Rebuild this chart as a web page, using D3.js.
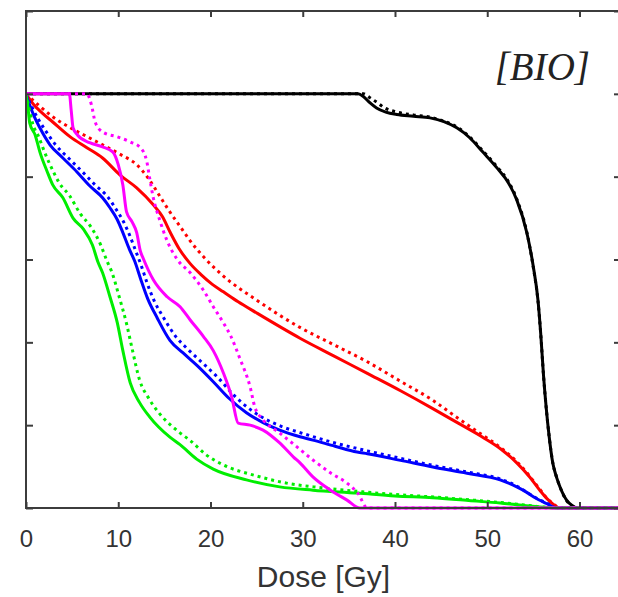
<!DOCTYPE html>
<html>
<head>
<meta charset="utf-8">
<script src="https://cdn.jsdelivr.net/npm/d3@7"></script>
<style>
  html, body { margin: 0; padding: 0; background: #fff; }
  svg { display: block; }
</style>
</head>
<body>
<svg id="chart" width="618" height="597"></svg>
<script>
// Dose-volume histograms: dose [Gy] vs volume [%]; solid = plan, dotted = comparison
const xTicks = [0, 10, 20, 30, 40, 50, 60];
const yTicks = [0, 20, 40, 60, 80, 100, 120];
const xLabel = "Dose [Gy]";
const panelTag = "[BIO]";

const blackSolid = [[0,100],[36.0,100],[36.6,99.3],[37.3,97.8],[38.0,96.6],[39.0,95.6],[40.2,95.0],[42,94.6],[43.8,94.2],[45.3,93.3],[46.7,91.8],[48.1,89.4],[49.5,86],[51.1,82],[52.3,78.5],[53.2,74.4],[54.3,66.4],[55.0,58.2],[55.5,50.2],[55.8,42],[56.1,32],[56.4,24],[56.7,17.5],[57.1,10.9],[57.5,7.5],[57.9,5],[58.6,1.9],[59.2,0.6],[59.8,0],[65,0]];
const blackDotted = [[0,100],[36.6,100],[37.2,99.2],[38.0,98.0],[38.8,96.7],[40.2,95.6],[42,94.9],[43.8,94.4],[45.3,93.4],[46.7,92],[48.1,89.6],[49.5,86.3],[51.1,82.3],[52.3,78.8],[53.2,74.6],[54.3,66.5],[55.0,58],[55.5,50],[55.8,42],[56.1,32],[56.4,24],[56.7,17.5],[57.1,11],[57.5,7.6],[57.9,5],[58.6,1.8],[59.2,0.5],[59.8,0],[65,0]];

const redSolid = [[0,100],[0.8,97.5],[1.8,95.3],[2.9,93.2],[4.8,89.6],[6.6,87],[8.3,84.5],[10.2,80.4],[12.0,77.3],[13.8,73.2],[14.8,70.3],[15.6,66.7],[16.6,62.6],[17.8,59],[19,56.3],[20.2,54],[21.4,52.2],[23,49.8],[25,47.1],[29.7,41],[33.3,36.8],[37,32.5],[40.6,28.3],[44.1,24],[47,20.3],[49.5,17.1],[51.5,14.2],[53.2,10.9],[54.6,7.5],[55.7,4.3],[56.5,2.2],[57.1,1.0],[57.8,0],[65,0]];
const redDotted = [[0,100],[1.5,97],[3,94.3],[4.8,91.8],[6.5,89.8],[8.3,87.7],[10.2,85.4],[12,82.9],[13.3,79.5],[14.5,75.3],[15.5,71.8],[16.7,68],[17.8,64.5],[19.6,59.8],[21.4,56],[25,50.2],[29.7,43.6],[33.3,39.5],[37,35.3],[40.6,30.6],[44.1,26],[47,21.4],[49.5,17.6],[51.5,14.5],[53.2,11.2],[54.6,7.7],[55.7,4.5],[56.5,2.3],[57.1,1.1],[57.9,0],[65,0]];

const blueSolid = [[0,100],[0.4,97.3],[0.9,94.5],[1.5,91.8],[2.6,87.7],[4.0,84.5],[5.5,81.2],[6.9,77.8],[8.3,74.9],[9.1,72.5],[9.9,69.6],[10.5,66.5],[11.2,62.5],[11.8,59.5],[12.4,55.5],[13.2,50.5],[14.2,46],[15.6,40.5],[17,37.5],[18.5,34.5],[20.3,30.5],[22,26.5],[23.9,23],[25.7,20.6],[27.5,18.8],[29.7,17.2],[31.1,16.4],[33.5,14.9],[35.9,13.5],[37,13.1],[40.6,11.5],[44.1,9.9],[47.8,8.4],[51.4,6.8],[53.2,5.1],[54.2,3.9],[55,2.7],[56.5,1],[57.5,0],[65,0]];
const blueDotted = [[0,100],[0.6,97],[1.3,94],[2.0,91.5],[3.2,87.7],[4.6,84.5],[6.1,81.2],[7.5,78],[8.9,75],[9.8,72],[10.6,69],[11.3,65.5],[11.9,62],[12.5,58.5],[13.1,54.5],[13.9,50],[14.9,46],[16.2,41.5],[17.6,38.2],[19,35.3],[20.8,31.5],[22.5,27.3],[24.3,23.8],[26,21.4],[27.8,19.6],[30,18],[33.5,15.7],[37,13.8],[40.6,12],[44.1,10.3],[47.8,8.7],[51.4,7],[53.2,5.3],[55,2.8],[56.5,1.1],[57.6,0],[65,0]];

const greenSolid = [[0,100],[0.2,97],[0.4,93],[1.0,90],[1.5,86],[2.3,81.2],[2.9,78],[4,74.9],[5.1,70],[6.2,67.4],[7.2,63.5],[7.8,59.4],[8.3,56.8],[9.1,51],[9.9,44.7],[10.5,38],[11.3,30.2],[12.3,25.5],[13.4,22],[15.6,17.1],[16.7,15.3],[18.5,11.8],[20.3,9.4],[23.9,6.8],[27.5,5.1],[31.1,4.3],[35.9,3.6],[40,2.9],[44.1,2.5],[48,1.8],[51.4,1.2],[54,0.6],[56.5,0.1],[57.5,0],[65,0]];
const greenDotted = [[0,100],[0.3,97],[0.7,93],[1.4,89.5],[2.0,86],[2.9,81.5],[3.6,78.5],[4.7,75.5],[5.9,71],[7.0,68],[8.1,63.5],[8.8,59.5],[9.3,57],[10.1,51],[10.9,44.5],[11.5,38.5],[12.3,31],[13.3,26.5],[14.4,23],[16.6,18.3],[17.8,16.3],[19.5,12.9],[21.3,10.5],[24.9,7.8],[28.5,5.9],[32,4.9],[36.5,3.9],[40.5,3.2],[44.5,2.6],[48.5,1.9],[52,1.2],[54.5,0.6],[56.7,0.1],[57.7,0],[65,0]];

const magentaSolid = [[0,100],[4.7,100],[4.9,96],[5.1,91.8],[5.6,90],[6.9,88.2],[8.3,87.2],[9.4,86],[10,82.9],[10.5,78],[10.9,71.5],[11.5,69.1],[12,66.5],[12.4,62],[12.7,60.3],[13.8,55.1],[15.3,51],[16.7,48.6],[17.8,45.4],[19.2,41.5],[20.3,38],[21.4,32.6],[22.3,26.8],[23,20.5],[24.3,20],[25.7,18.8],[27.5,15.7],[29,12.3],[29.7,10.9],[31.1,7.5],[33,4.3],[34.8,1.9],[36.2,0],[65,0]];
const magentaDotted = [[0,100],[6.6,100],[7.1,97.3],[7.5,93.2],[8.3,90.8],[9.9,89.6],[11.3,88.4],[12.4,87],[13.1,83.6],[13.4,79.7],[13.8,74.9],[14.5,69.5],[15.3,64.5],[16.4,60],[17.8,56.8],[19.2,52.7],[20.3,48.6],[21.4,44.7],[22.2,41.5],[23.2,36],[24.3,29.2],[24.8,24.4],[25.7,21.3],[27.5,18.1],[29.4,14.7],[31.1,11.6],[33,8.5],[34.8,6],[36,3.5],[37,0],[65,0]];

const series = [
  { data: blackSolid,    color: "#000000", dotted: false },
  { data: blackDotted,   color: "#000000", dotted: true },
  { data: redSolid,      color: "#ff0000", dotted: false },
  { data: redDotted,     color: "#ff0000", dotted: true },
  { data: blueSolid,     color: "#0000ff", dotted: false },
  { data: blueDotted,    color: "#0000ff", dotted: true },
  { data: greenSolid,    color: "#00ee00", dotted: false },
  { data: greenDotted,   color: "#00ee00", dotted: true },
  { data: magentaSolid,  color: "#ff00ff", dotted: false },
  { data: magentaDotted, color: "#ff00ff", dotted: true }
];

const plotLeft = 26, plotRight = 621, plotTop = 11, plotBottom = 508;
const svg = d3.select("#chart");

const x = d3.scaleLinear().domain([0, 64.5]).range([plotLeft, plotRight]);
const y = d3.scaleLinear().domain([0, 120]).range([plotBottom, plotTop]);

const axisColor = "#3c3c3c";

svg.append("defs").append("clipPath").attr("id", "plot-clip")
  .append("rect").attr("x", plotLeft).attr("y", plotTop)
  .attr("width", plotRight - plotLeft).attr("height", plotBottom - plotTop + 3);

// curves
const line = d3.line().x(d => x(d[0])).y(d => y(d[1])).curve(d3.curveMonotoneX);
const curves = svg.append("g").attr("clip-path", "url(#plot-clip)");
series.forEach(s => {
  curves.append("path")
    .attr("d", line(s.data))
    .attr("fill", "none")
    .attr("stroke", s.color)
    .attr("stroke-width", 3)
    .attr("stroke-linejoin", "round")
    .attr("stroke-dasharray", s.dotted ? "3,4" : null);
});

// axes with inward ticks on all four sides
function styleAxis(g) {
  g.select(".domain").remove();
  g.selectAll(".tick line").attr("stroke", axisColor).attr("stroke-width", 2);
}
svg.append("g").attr("transform", `translate(0,${plotBottom})`)
  .call(d3.axisBottom(x).tickValues(xTicks).tickSizeInner(-6).tickSizeOuter(0).tickPadding(22))
  .call(styleAxis)
  .call(g => g.selectAll(".tick text")
    .attr("fill", "#333").attr("font-size", 24)
    .attr("font-family", "'Liberation Sans', Arial, Helvetica, sans-serif"));
svg.append("g").attr("transform", `translate(0,${plotTop})`)
  .call(d3.axisTop(x).tickValues(xTicks).tickSizeInner(-6).tickSizeOuter(0).tickFormat(""))
  .call(styleAxis);
svg.append("g").attr("transform", `translate(${plotLeft},0)`)
  .call(d3.axisLeft(y).tickValues(yTicks).tickSizeInner(-7).tickSizeOuter(0).tickFormat(""))
  .call(styleAxis);
svg.append("g").attr("transform", `translate(${plotRight},0)`)
  .call(d3.axisRight(y).tickValues(yTicks).tickSizeInner(-7).tickSizeOuter(0).tickFormat(""))
  .call(styleAxis);

// frame
svg.append("rect")
  .attr("x", plotLeft).attr("y", plotTop)
  .attr("width", plotRight - plotLeft).attr("height", plotBottom - plotTop)
  .attr("fill", "none").attr("stroke", axisColor).attr("stroke-width", 2);

// axis title
svg.append("text")
  .attr("x", (plotLeft + plotRight) / 2).attr("y", 587)
  .attr("text-anchor", "middle")
  .attr("font-family", "'Liberation Sans', Arial, Helvetica, sans-serif")
  .attr("font-size", 30).attr("fill", "#333")
  .text(xLabel);

// panel tag
svg.append("text")
  .attr("x", 590).attr("y", 80)
  .attr("text-anchor", "end")
  .attr("font-family", "'Liberation Serif', 'Times New Roman', serif")
  .attr("font-style", "italic")
  .attr("font-size", 39).attr("fill", "#222")
  .text(panelTag);
</script>
</body>
</html>
